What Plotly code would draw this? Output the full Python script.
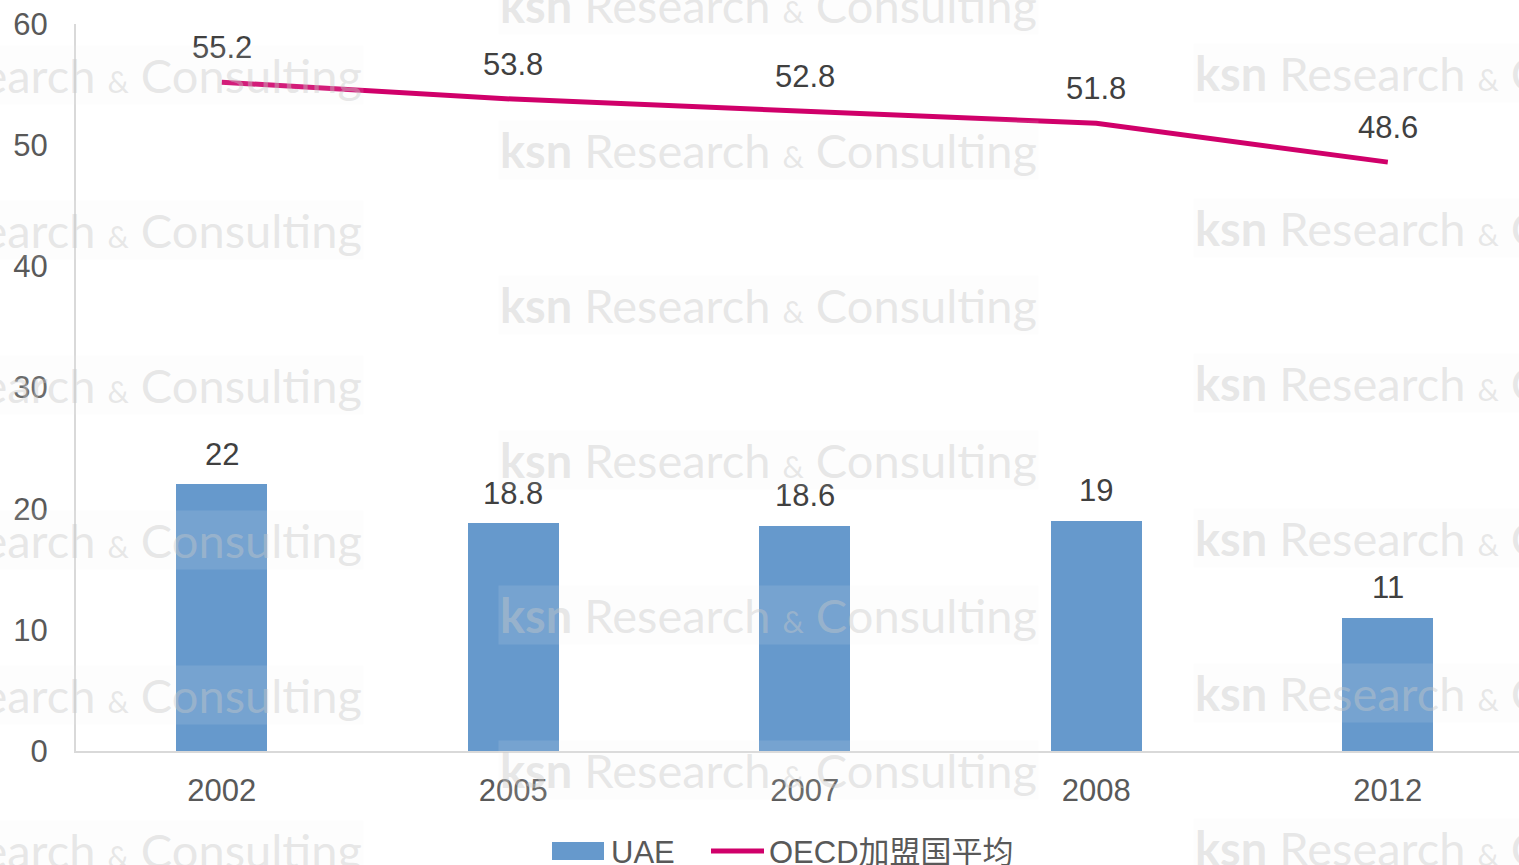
import plotly.graph_objects as go

years = ["2002", "2005", "2007", "2008", "2012"]
uae = [22, 18.8, 18.6, 19, 11]
oecd = [55.2, 53.8, 52.8, 51.8, 48.6]
y_ticks = [0, 10, 20, 30, 40, 50, 60]
series_names = ["UAE", "OECD加盟国平均"]

FONT = "Liberation Sans, Arial, Noto Sans CJK SC, sans-serif"
BAR_C = "#6699CC"
LINE_C = "#D0006A"
TXT = "#595959"
LBL = "#404040"
FS = 31

fig = go.Figure()
fig.add_trace(go.Bar(x=years, y=uae, name=series_names[0], marker_color=BAR_C, width=0.312,
                     marker_line_width=0, showlegend=False))
fig.add_trace(go.Scatter(x=years, y=oecd, name=series_names[1], mode="lines",
                         line=dict(color=LINE_C, width=5), showlegend=False))

ann = []
for i, yv in enumerate(uae):
    ann.append(dict(x=i, y=yv, xref="x", yref="y", text=f"{yv:g}", showarrow=False,
                    yshift=30, font=dict(size=FS, color=LBL, family=FONT)))
for i, yv in enumerate(oecd):
    ann.append(dict(x=i, y=yv, xref="x", yref="y", text=f"{yv:g}", showarrow=False,
                    yshift=35, font=dict(size=FS, color=LBL, family=FONT)))

W, H = 1519, 865
L, R, T, B = 76, 0, 24, 114
PW, PH = W - L - R, H - T - B

def px2paper(px, py):
    return (px - L) / PW, (H - B - py) / PH

# faint watermarks
wm = "<b>ksn</b> Research <span style='font-size:30px'>&</span> Consulting"
cols = [(-245, [75, 230, 385, 540, 695, 850]),
        (430, [5, 150, 305, 460, 615, 770]),
        (1125, [73, 228, 383, 538, 693, 848])]
for x0, rows in cols:
    for yc in rows:
        px, py = px2paper(x0 + 68, yc)
        ann.append(dict(x=px, y=py, xref="paper", yref="paper", text=wm, showarrow=False,
                        xanchor="left", yanchor="middle",
                        font=dict(size=47, color="rgba(200,200,200,0.42)", family="Lato"),
                        bgcolor="rgba(240,240,240,0.12)"))

# manual legend (wide swatches like the reference)
shapes = []
lx0, lx1 = px2paper(552, 0)[0], px2paper(604, 0)[0]
ly0, ly1 = px2paper(0, 860)[1], px2paper(0, 842)[1]
shapes.append(dict(type="rect", xref="paper", yref="paper", x0=lx0, x1=lx1, y0=ly0, y1=ly1,
                   fillcolor=BAR_C, line_width=0))
mx0, mx1 = px2paper(711, 0)[0], px2paper(764, 0)[0]
my = px2paper(0, 851)[1]
shapes.append(dict(type="line", xref="paper", yref="paper", x0=mx0, x1=mx1, y0=my, y1=my,
                   line=dict(color=LINE_C, width=5)))
for name, xp in zip(series_names, [609, 767]):
    ax, ay = px2paper(xp, 852)
    ann.append(dict(x=ax, y=ay, xref="paper", yref="paper", text=name, showarrow=False,
                    xanchor="left", yanchor="middle",
                    font=dict(size=FS, color=TXT, family=FONT)))

fig.update_layout(
    width=W, height=H,
    margin=dict(l=L, r=R, t=T, b=B),
    paper_bgcolor="white", plot_bgcolor="white",
    font=dict(family=FONT, size=FS, color=TXT),
    showlegend=False,
    annotations=ann,
    shapes=shapes,
    bargap=0,
)
fig.update_xaxes(type="category", range=[-0.5, 4.45], showline=True, linecolor="#D9D9D9",
                 linewidth=2, ticks="", showgrid=False, zeroline=False, automargin=False,
                 tickfont=dict(size=FS, color=TXT), ticklabelstandoff=11)
fig.update_yaxes(range=[0, 60], tickvals=y_ticks, showline=True, linecolor="#D9D9D9",
                 linewidth=2, ticks="", showgrid=False, zeroline=False, automargin=False,
                 tickfont=dict(size=FS, color=TXT), ticklabelstandoff=20)

fig.write_html("out.html", config={"displayModeBar": False},
               post_script="document.body.style.margin='0';document.body.style.overflow='hidden';")
